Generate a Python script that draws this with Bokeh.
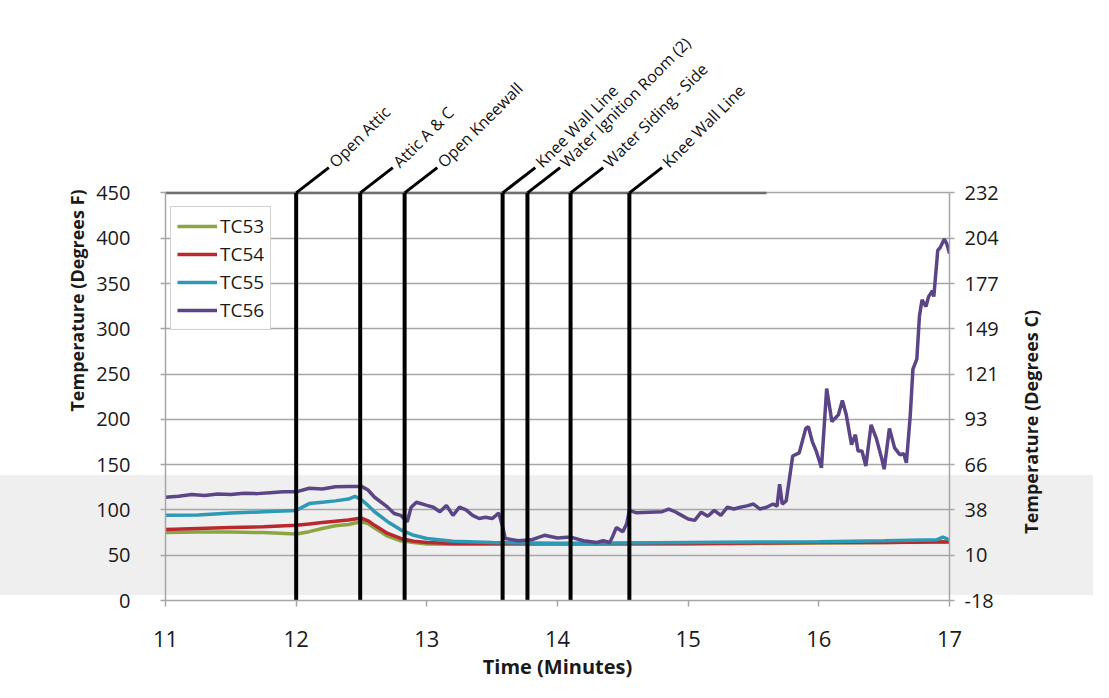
import math
from bokeh.plotting import figure
from bokeh.layouts import row
from bokeh.models import (Range1d, LinearAxis, FixedTicker, Legend, LegendItem,
                          ColumnDataSource, InlineStyleSheet)
from bokeh.core.properties import value
from bokeh.embed import file_html
from bokeh.resources import INLINE

# ---------------- data ----------------
t_smooth = [11.0, 11.25, 11.5, 11.75, 12.0, 12.1, 12.2, 12.3, 12.4, 12.45, 12.5, 12.55,
            12.6, 12.7, 12.8, 12.9, 13.0, 13.2, 13.5, 14.0, 14.5, 15.0, 15.5, 16.0,
            16.5, 16.9, 16.95, 17.0]
tc53 = [75, 75.5, 75.5, 75, 73.5, 76, 79.5, 82.5, 84, 85.5, 87, 85,
        80, 71, 66, 64, 62.5, 62, 62, 62, 62, 62.5, 63, 63.5,
        64, 65, 65, 65]
tc54 = [78.5, 79.5, 80.5, 81.5, 83, 84.5, 86, 87.5, 89, 90, 91, 88,
        83, 74, 68.5, 65.5, 64, 63, 63, 63, 63, 63, 63.5, 64,
        64, 64.5, 64.5, 64.5]
tc55 = [94, 94.5, 96.5, 98, 99.5, 107, 108.5, 110, 112, 115, 111, 105,
        98, 87, 78, 72, 68.5, 65.5, 64, 63, 63.5, 64, 64.5, 65,
        66, 67, 70, 67]

t56 = [11.0, 11.1, 11.2, 11.3, 11.4, 11.5, 11.6, 11.7, 11.8, 11.9, 12.0, 12.1, 12.2,
       12.3, 12.4, 12.5, 12.55, 12.6, 12.7, 12.75, 12.8, 12.85, 12.88, 12.92, 13.0,
       13.05, 13.1, 13.15, 13.2, 13.25, 13.3, 13.35, 13.4, 13.45, 13.5, 13.55, 13.58,
       13.6, 13.7, 13.8, 13.9, 14.0, 14.1, 14.2, 14.3, 14.35, 14.4, 14.42, 14.45,
       14.5, 14.53, 14.55, 14.6, 14.7, 14.8, 14.85, 14.9, 14.95, 15.0, 15.05, 15.1,
       15.15, 15.2, 15.25, 15.3, 15.35, 15.4, 15.45, 15.5, 15.55, 15.6, 15.65, 15.68,
       15.7, 15.72, 15.75, 15.78, 15.8, 15.85, 15.9, 15.92, 15.95, 15.98, 16.02, 16.06,
       16.1, 16.15, 16.18, 16.21, 16.25, 16.28, 16.3, 16.33, 16.36, 16.4, 16.44, 16.48,
       16.5, 16.54, 16.58, 16.62, 16.65, 16.67, 16.7, 16.72, 16.75, 16.77, 16.79, 16.82,
       16.84, 16.87, 16.88, 16.91, 16.93, 16.96, 16.98, 17.0]
tc56 = [114, 115, 117, 116, 117.5, 117, 118.5, 118, 119, 120, 120, 124, 123,
        125.5, 126, 126, 122, 114, 103, 96, 94, 87, 103, 108.5, 105,
        103, 98, 105, 94, 103, 100, 94, 90.5, 92, 90.5, 96.5, 81.5,
        68.5, 66, 67, 72, 69, 70, 66, 64, 66, 64, 70, 80.5,
        76, 85, 99.5, 97, 97.5, 98, 101, 98, 94, 90, 88.5, 97.5,
        93, 99.5, 94, 103, 101, 103, 104.5, 106.5, 101, 103, 106.5, 104,
        128.5, 106.5, 110, 139.5, 159.5, 163, 190, 192, 175.5, 165, 146.5, 234,
        197.5, 205, 221, 205, 172, 183, 165, 165, 148.5, 194, 179, 157.5,
        145, 190, 168.5, 161, 162, 152, 205, 255.5, 266.5, 314, 332, 324.5,
        335.5, 342, 335.5, 386.5, 390, 399, 393.5, 383]

series_names = ["TC53", "TC54", "TC55", "TC56"]
series_colors = ["#8ca543", "#b8282e", "#2d9ab5", "#5b4586"]

event_times = [12.0, 12.49, 12.83, 13.58, 13.77, 14.10, 14.55]
event_labels = ["Open Attic", "Attic A & C", "Open Kneewall", "Knee Wall Line",
                "Water Ignition Room (2)", "Water Siding - Side", "Knee Wall Line"]

f_ticks = [0, 50, 100, 150, 200, 250, 300, 350, 400, 450]
c_tick_labels = ["-18", "10", "38", "66", "93", "121", "149", "177", "204", "232"]
x_ticks = [11, 12, 13, 14, 15, 16, 17]
header_line_x = [11.0, 15.6]
right_title = "Temperature (Degrees C)"

# ---------------- layout constants ----------------
FONT = "Open Sans"
W, H = 1010, 682
W2 = 1093 - W
FRAME_LEFT, FRAME_RIGHT, FRAME_BOTTOM = 165, 949, 608
Y_TOP = FRAME_BOTTOM * 450 / 413.0
LEAD_DX, LEAD_DY = 0.25, 28
RIGHT_TITLE_X = 1030          # page x of the right-hand title's centre
RIGHT_TITLE_Y = 427           # page y of the right-hand title's centre

css = InlineStyleSheet(css=""":host { background: linear-gradient(to bottom,
  #ffffff 0px, #ffffff 475px, #efefef 475px, #efefef 595px, #ffffff 595px, #ffffff 100%); }""")

y_range = Range1d(0, Y_TOP)
p = figure(width=W, height=H, output_backend="svg", toolbar_location=None,
           x_range=Range1d(11, 17), y_range=y_range,
           min_border_left=FRAME_LEFT, min_border_right=W - FRAME_RIGHT, min_border_top=0,
           min_border_bottom=H - FRAME_BOTTOM, y_axis_location=None, x_axis_location=None)
p.stylesheets = [css]
p.border_fill_color = None
p.background_fill_color = None
p.outline_line_color = None

grid_col = "#a6a6a6"
yl = LinearAxis(ticker=FixedTicker(ticks=f_ticks), bounds=(0, 450),
                axis_label="Temperature (Degrees F)")
yr = LinearAxis(ticker=FixedTicker(ticks=f_ticks), bounds=(0, 450),
                major_label_overrides={f: c for f, c in zip(f_ticks, c_tick_labels)})
xb = LinearAxis(ticker=FixedTicker(ticks=x_ticks), axis_label="Time (Minutes)")

for ax in (yl, yr, xb):
    ax.axis_line_color = grid_col
    ax.axis_line_width = 1.5
    ax.major_tick_line_color = grid_col
    ax.major_tick_line_width = 1.5
    ax.major_tick_in = 0
    ax.major_tick_out = 5
    ax.minor_tick_line_color = None
    ax.major_label_text_font = FONT
    ax.major_label_text_color = "#1a1a1a"
    ax.axis_label_text_font = FONT
    ax.axis_label_text_font_style = "bold"
    ax.axis_label_text_color = "#1a1a1a"

yl.major_label_text_font_size = "20px"
yr.major_label_text_font_size = "20px"
xb.major_label_text_font_size = "22px"
yl.axis_label_text_font_size = "18px"
xb.axis_label_text_font_size = "20px"
yl.major_label_standoff = 30
yr.major_label_standoff = 10
yl.axis_label_standoff = 4
xb.major_tick_out = 6
xb.major_label_standoff = 24
xb.axis_label_standoff = 3

p.add_layout(yl, "left")
p.add_layout(yr, "right")
p.add_layout(xb, "below")

p.xgrid.visible = False
p.ygrid.ticker = FixedTicker(ticks=f_ticks)
p.ygrid.grid_line_color = grid_col
p.ygrid.grid_line_width = 1.5

p.line(x=header_line_x, y=[450, 450], line_color="#707070", line_width=2.5)

renderers = []
for name, col, xs, ys in zip(series_names, series_colors,
                             [t_smooth, t_smooth, t_smooth, t56],
                             [tc53, tc54, tc55, tc56]):
    r = p.line(x=xs, y=ys, line_color=col, line_width=3.5)
    renderers.append(r)

ev = ColumnDataSource(dict(
    t=event_times,
    y0=[0] * len(event_times),
    y1=[450] * len(event_times),
    tx=[t + LEAD_DX for t in event_times],
    ty=[450 + LEAD_DY] * len(event_times),
    label=event_labels,
))
p.segment(x0="t", y0="y0", x1="t", y1="y1", source=ev, line_color="black", line_width=4)
p.segment(x0="t", y0="y1", x1="tx", y1="ty", source=ev, line_color="black", line_width=3)
p.text(x="tx", y="ty", text="label", source=ev, angle=math.pi / 4,
       text_font=value(FONT), text_font_size="16px", text_color="#111111",
       text_align="left", text_baseline="middle", x_offset=3, y_offset=-3)

legend = Legend(items=[LegendItem(label=n, renderers=[r]) for n, r in zip(series_names, renderers)],
                location=(5, FRAME_BOTTOM - 338))
legend.label_text_font = FONT
legend.label_text_font_size = "19px"
legend.label_text_color = "#1a1a1a"
legend.glyph_width = 40
legend.glyph_height = 24
legend.label_height = 24
legend.spacing = 2
legend.padding = 6
legend.margin = 0
legend.label_standoff = 3
legend.border_line_color = "#a6a6a6"
legend.border_line_width = 1.5
legend.background_fill_color = "white"
p.add_layout(legend, "center")

# narrow companion panel that carries the right-hand (Celsius) axis title,
# reading bottom-to-top like the left title
p2 = figure(width=W2, height=H, output_backend="svg", toolbar_location=None,
            x_range=Range1d(0, W2), y_range=y_range,
            min_border_left=0, min_border_right=0, min_border_top=0,
            min_border_bottom=H - FRAME_BOTTOM, x_axis_location=None, y_axis_location=None)
p2.stylesheets = [css]
p2.border_fill_color = None
p2.background_fill_color = None
p2.outline_line_color = None
p2.xgrid.visible = False
p2.ygrid.visible = False
p2.text(x=[RIGHT_TITLE_X - W], y=[(FRAME_BOTTOM - RIGHT_TITLE_Y) * 450 / 413.0],
        text=[right_title], angle=math.pi / 2,
        text_font=value(FONT), text_font_size="18px", text_font_style="bold",
        text_color="#1a1a1a", text_align="center", text_baseline="middle")

layout = row(p, p2, spacing=0)
open("out.html", "w").write(file_html(layout, INLINE))
